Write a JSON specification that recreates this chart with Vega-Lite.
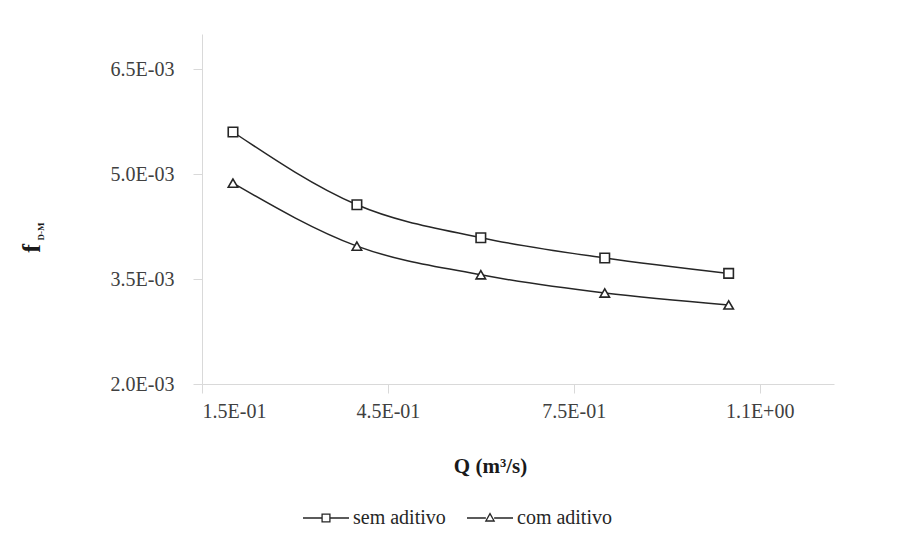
{
  "$schema": "https://vega.github.io/schema/vega-lite/v6.json",
  "width": 632,
  "height": 350,
  "autosize": {"type": "none"},
  "padding": {"left": 202, "top": 34, "right": 70, "bottom": 151},
  "background": "white",
  "config": {
    "view": {"stroke": null},
    "font": "Liberation Serif",
    "axis": {
      "labelFont": "Liberation Serif",
      "titleFont": "Liberation Serif",
      "labelFontSize": 20,
      "labelColor": "#404040",
      "domainColor": "#d9d9d9",
      "tickColor": "#d9d9d9",
      "tickSize": 9,
      "grid": false
    },
    "legend": {"labelFont": "Liberation Serif", "labelFontSize": 20, "labelColor": "#262626"}
  },
  "data": {
    "values": [
      {"Q": 0.2, "f": 0.0056, "serie": "sem aditivo"},
      {"Q": 0.4, "f": 0.00456, "serie": "sem aditivo"},
      {"Q": 0.6, "f": 0.00409, "serie": "sem aditivo"},
      {"Q": 0.8, "f": 0.0038, "serie": "sem aditivo"},
      {"Q": 1.0, "f": 0.00358, "serie": "sem aditivo"},
      {"Q": 0.2, "f": 0.00487, "serie": "com aditivo"},
      {"Q": 0.4, "f": 0.00397, "serie": "com aditivo"},
      {"Q": 0.6, "f": 0.00356, "serie": "com aditivo"},
      {"Q": 0.8, "f": 0.0033, "serie": "com aditivo"},
      {"Q": 1.0, "f": 0.00313, "serie": "com aditivo"}
    ]
  },
  "resolve": {"axis": {"y": "independent"}, "scale": {"shape": "independent"}},
  "layer": [
    {
      "mark": {"type": "line", "interpolate": "monotone", "color": "#262626", "strokeWidth": 1.5},
      "encoding": {
        "x": {
          "field": "Q", "type": "quantitative",
          "scale": {"domain": [0.15, 1.17], "nice": false, "zero": false},
          "axis": {
            "values": [0.15, 0.45, 0.75, 1.05],
            "labelExpr": "slice(format(datum.value,'.1e'),0,3) + 'E' + slice(format(datum.value,'.1e'),4,5) + '0' + slice(format(datum.value,'.1e'),5)",
            "labelFont": "Liberation Serif",
            "labelFontSize": 20,
            "labelPadding": 8,
            "title": "Q (m³/s)",
            "titleFont": "Liberation Serif",
            "titleFontSize": 21,
            "titleFontWeight": "bold",
            "titleColor": "#1a1a1a",
            "titleX": 288,
            "titleY": 82,
            "titleBaseline": "middle"
          }
        },
        "y": {
          "field": "f", "type": "quantitative",
          "scale": {"domain": [0.002, 0.007], "nice": false, "zero": false},
          "axis": {
            "orient": "left",
            "values": [0.002, 0.0035, 0.005, 0.0065],
            "labelExpr": "slice(format(datum.value,'.1e'),0,3) + 'E' + slice(format(datum.value,'.1e'),4,5) + '0' + slice(format(datum.value,'.1e'),5)",
            "labelFont": "Liberation Serif",
            "labelFontSize": 20,
            "labelPadding": 19,
            "title": "f",
            "titleFont": "Liberation Serif",
            "titleFontSize": 26,
            "titleFontWeight": "bold",
            "titleColor": "#1a1a1a",
            "titleAngle": -90,
            "titleX": -171,
            "titleY": 214,
            "titleAlign": "center",
            "titleBaseline": "middle"
          }
        },
        "detail": {"field": "serie"}
      }
    },
    {
      "mark": {"type": "point", "filled": false, "fill": "white", "fillOpacity": 1, "stroke": "#262626", "strokeWidth": 1.6, "size": 90, "opacity": 1},
      "encoding": {
        "x": {"field": "Q", "type": "quantitative"},
        "y": {"field": "f", "type": "quantitative", "axis": null},
        "shape": {
          "field": "serie", "type": "nominal",
          "scale": {"domain": ["sem aditivo", "com aditivo"], "range": ["square", "triangle-up"]},
          "legend": null
        }
      }
    },
    {
      "transform": [{"filter": "datum.Q > 5"}],
      "mark": {"type": "point", "filled": false, "color": "#262626", "strokeWidth": 1.3, "opacity": 1},
      "encoding": {
        "x": {"field": "Q", "type": "quantitative"},
        "y": {
          "field": "f", "type": "quantitative",
          "axis": {
            "orient": "right",
            "labels": false,
            "ticks": false,
            "domain": false,
            "title": "D-M",
            "titleFont": "Liberation Serif",
            "titleFontSize": 9,
            "titleFontWeight": "bold",
            "titleColor": "#1a1a1a",
            "titleAngle": -90,
            "titleX": -794,
            "titleY": 197,
            "titleAlign": "center",
            "titleBaseline": "middle"
          }
        },
        "shape": {
          "field": "serie", "type": "nominal",
          "scale": {
            "domain": ["sem aditivo", "com aditivo"],
            "range": ["M-1,0H-0.17M0.17,0H1M-0.17,-0.17H0.17V0.17H-0.17Z", "M-1,0H-0.18M0.18,0H1M0,-0.19L0.18,0.13H-0.18Z"]
          },
          "legend": {
            "title": null,
            "orient": "none",
            "direction": "horizontal",
            "legendX": 100,
            "legendY": 460,
            "symbolSize": 2116,
            "symbolStrokeWidth": 1.3,
            "symbolStrokeColor": "#262626",
            "symbolFillColor": "white",
            "labelFont": "Liberation Serif",
            "labelFontSize": 20,
            "labelOffset": 3,
            "columnPadding": 18
          }
        }
      }
    }
  ]
}
